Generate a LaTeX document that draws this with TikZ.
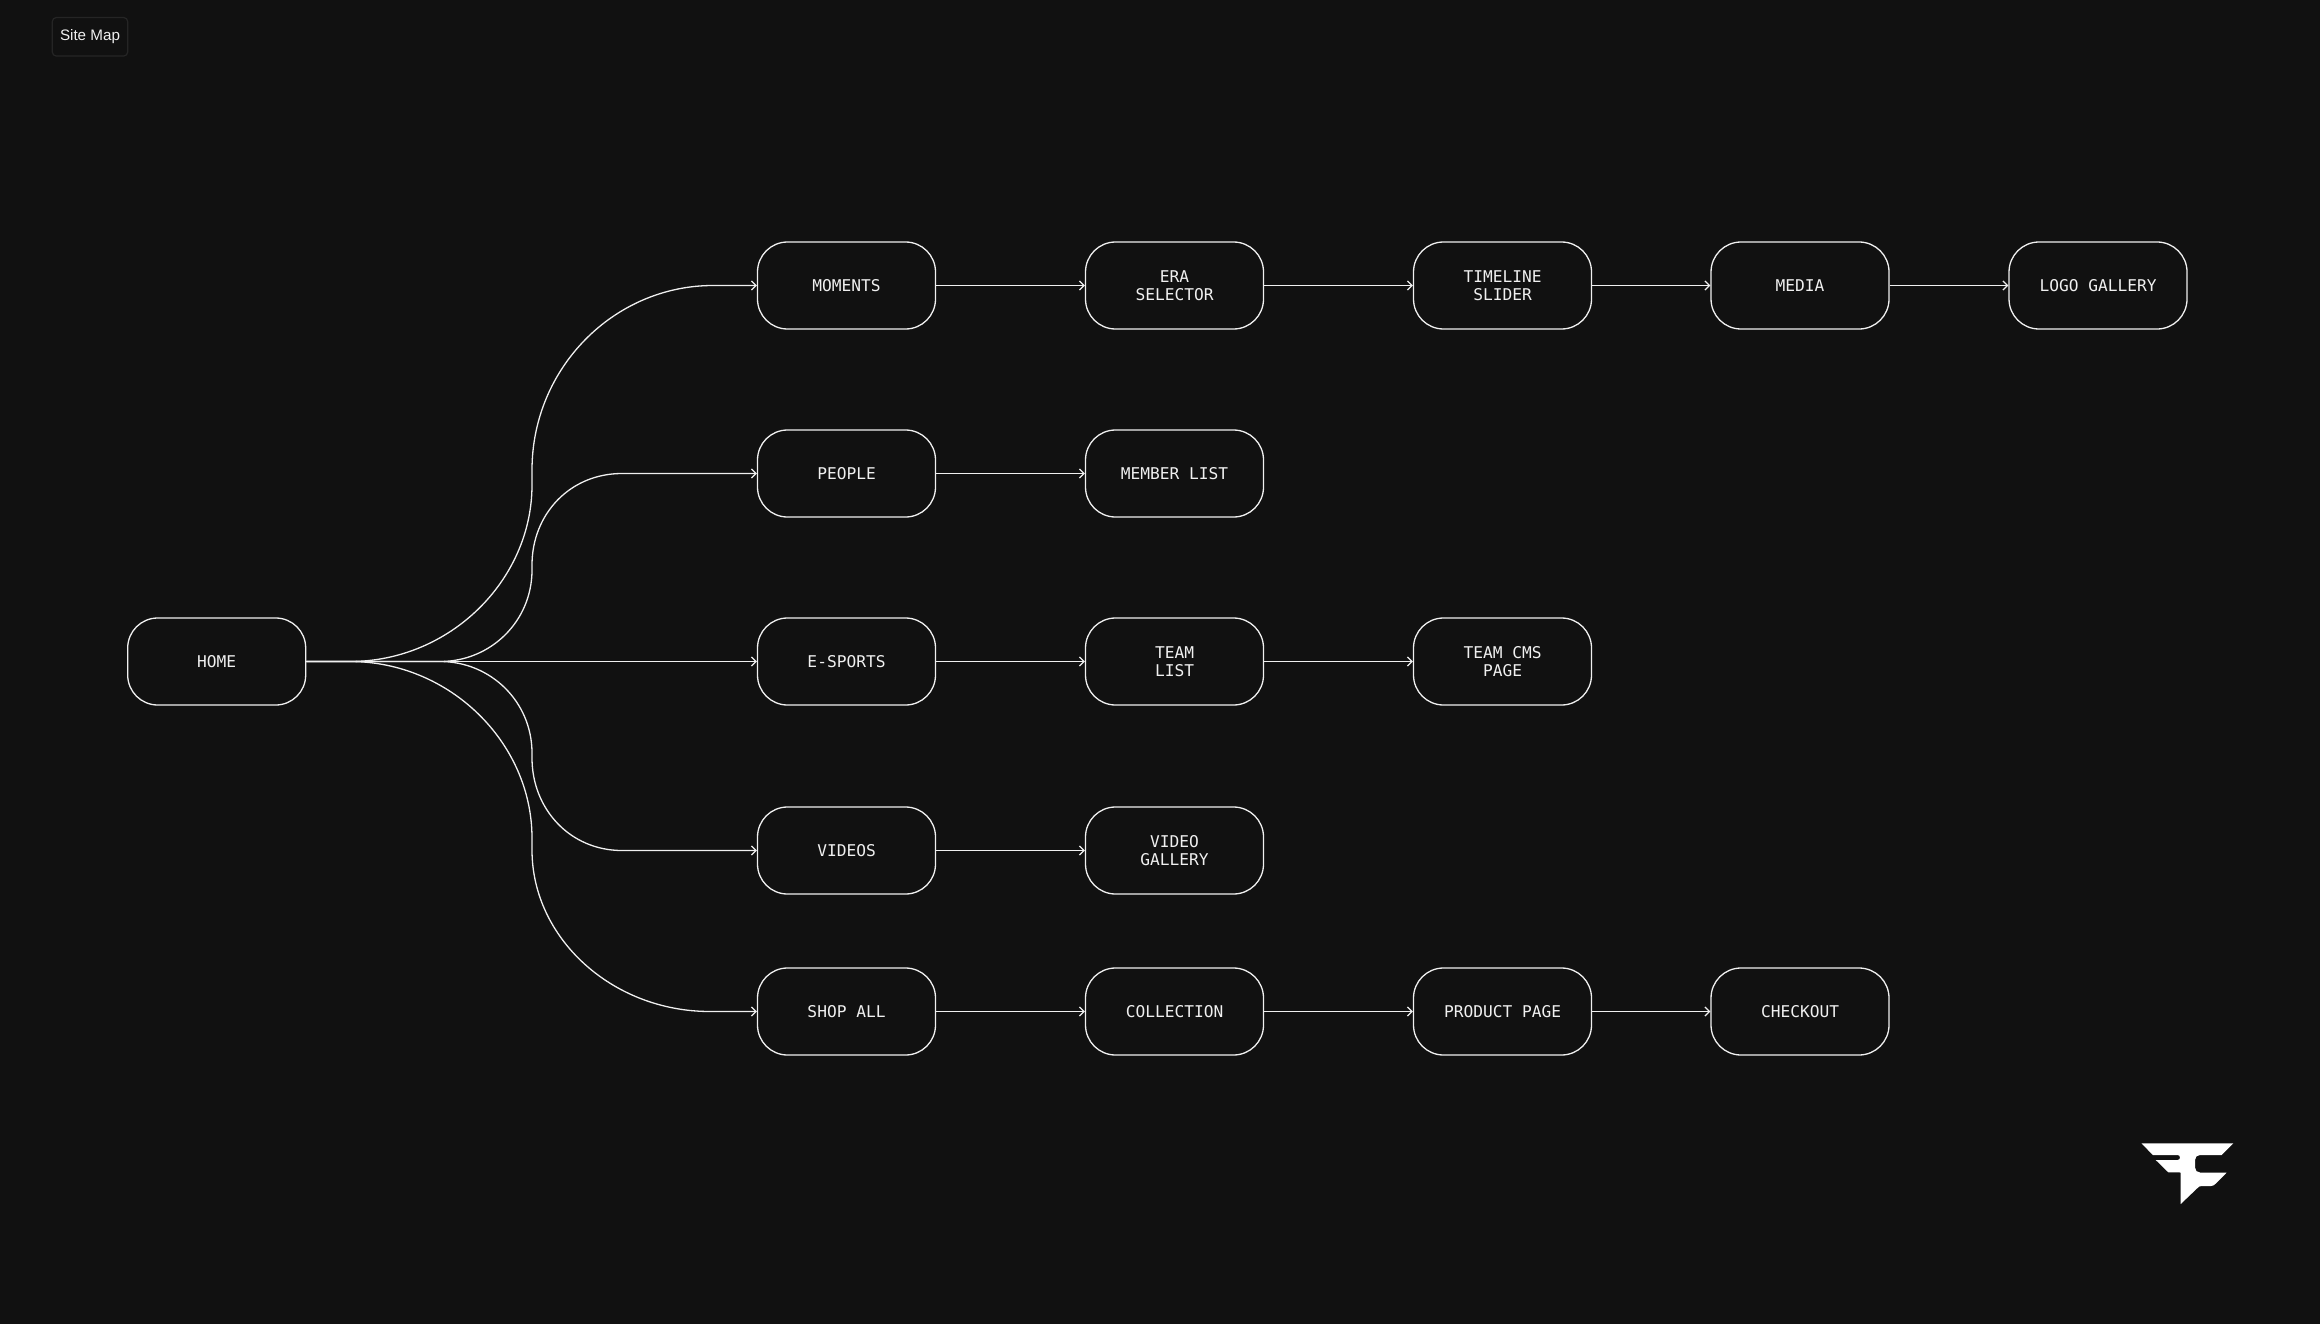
\documentclass[tikz,border=0pt]{standalone}
\usepackage{fontspec}
\setmainfont{Liberation Sans}
\newfontfamily\monof{DejaVu Sans Mono}
\usetikzlibrary{arrows.meta}
\definecolor{bg}{HTML}{111111}
\definecolor{fg}{HTML}{F0F0F0}
\definecolor{badgeline}{HTML}{252525}
\tikzset{
  x=1pt,y=-1pt,
  pagebox/.style={draw=fg,line width=1.3pt,rounded corners=30pt,minimum width=178pt,minimum height=87pt,inner sep=0pt,align=center,
    text=fg,font=\monof\fontsize{16.2}{18.5}\selectfont},
  conn/.style={draw=fg,line width=1.3pt,-{Straight Barb[length=4.5pt,width=9pt,line width=1.3pt]}},
  badge/.style={draw=badgeline,line width=1.2pt,rounded corners=4pt,minimum width=75.4pt,minimum height=38.5pt,inner sep=0pt,text=fg,font=\fontsize{15.2}{18}\selectfont},
}
\begin{document}
\begin{tikzpicture}
\useasboundingbox (0,0) rectangle (2320,1324);
\fill[bg] (0,0) rectangle (2320,1324);
\node[badge] (badge) at (90,36.8) {Site Map};
\node[pagebox] (home) at (216.7,661.5) {HOME};
\node[pagebox] (moments) at (846.5,285.5) {MOMENTS};
\node[pagebox] (era) at (1174.5,285.5) {ERA\\SELECTOR};
\node[pagebox] (timeline) at (1502.5,285.5) {TIMELINE\\SLIDER};
\node[pagebox] (media) at (1800,285.5) {MEDIA};
\node[pagebox] (logo) at (2098,285.5) {LOGO GALLERY};
\node[pagebox] (people) at (846.5,473.5) {PEOPLE};
\node[pagebox] (member) at (1174.5,473.5) {MEMBER LIST};
\node[pagebox] (esports) at (846.5,661.5) {E-SPORTS};
\node[pagebox] (team) at (1174.5,661.5) {TEAM\\LIST};
\node[pagebox] (teamcms) at (1502.5,661.5) {TEAM CMS\\PAGE};
\node[pagebox] (videos) at (846.5,850.5) {VIDEOS};
\node[pagebox] (gallery) at (1174.5,850.5) {VIDEO\\GALLERY};
\node[pagebox] (shop) at (846.5,1011.5) {SHOP ALL};
\node[pagebox] (collection) at (1174.5,1011.5) {COLLECTION};
\node[pagebox] (product) at (1502.5,1011.5) {PRODUCT PAGE};
\node[pagebox] (checkout) at (1800,1011.5) {CHECKOUT};
% branches
\draw[conn] (home.east) -- (esports.west);
\draw[conn] (home.east) -- (350,661.5) .. controls (450,661.5) and (532,580) .. (532,485) -- (532,470) .. controls (532,368) and (614,285.5) .. (713,285.5) -- (moments.west);
\draw[conn] (home.east) -- (440,661.5) .. controls (491,661.5) and (532,621) .. (532,570) -- (532,565) .. controls (532,514) and (570,473.5) .. (622,473.5) -- (people.west);
\draw[conn] (home.east) -- (440,661.5) .. controls (491,661.5) and (532,702) .. (532,753) -- (532,758) .. controls (532,809) and (570,850.5) .. (622,850.5) -- (videos.west);
\draw[conn] (home.east) -- (350,661.5) .. controls (450,661.5) and (532,743) .. (532,838) -- (532,850) .. controls (532,938) and (612,1011.5) .. (710,1011.5) -- (shop.west);
% chains
\draw[conn] (moments) -- (era);
\draw[conn] (era) -- (timeline);
\draw[conn] (timeline) -- (media);
\draw[conn] (media) -- (logo);
\draw[conn] (people) -- (member);
\draw[conn] (esports) -- (team);
\draw[conn] (team) -- (teamcms);
\draw[conn] (videos) -- (gallery);
\draw[conn] (shop) -- (collection);
\draw[conn] (collection) -- (product);
\draw[conn] (product) -- (checkout);
% logo mark
\fill[white] (2141.5,1143.3) -- (2233.3,1143.3) -- (2221.7,1155) -- (2200,1155) .. controls (2197,1155) and (2195,1157) .. (2195,1160) -- (2195,1167.5) .. controls (2195,1170.5) and (2197,1172.5) .. (2200,1172.5) -- (2226.7,1172.5) -- (2216,1183.3) .. controls (2214.5,1185) and (2213,1186) .. (2211,1186) -- (2202,1186) .. controls (2200,1186) and (2199,1186.5) .. (2198,1187.5) -- (2180.7,1204) -- (2180.5,1172.5) -- (2168.3,1172.3) -- (2155.7,1160) -- (2177.5,1160) .. controls (2179,1160) and (2180,1159) .. (2180,1157.5) .. controls (2180,1156) and (2179,1155) .. (2177.5,1155) -- (2152.8,1155) -- cycle;
\end{tikzpicture}
\end{document}
